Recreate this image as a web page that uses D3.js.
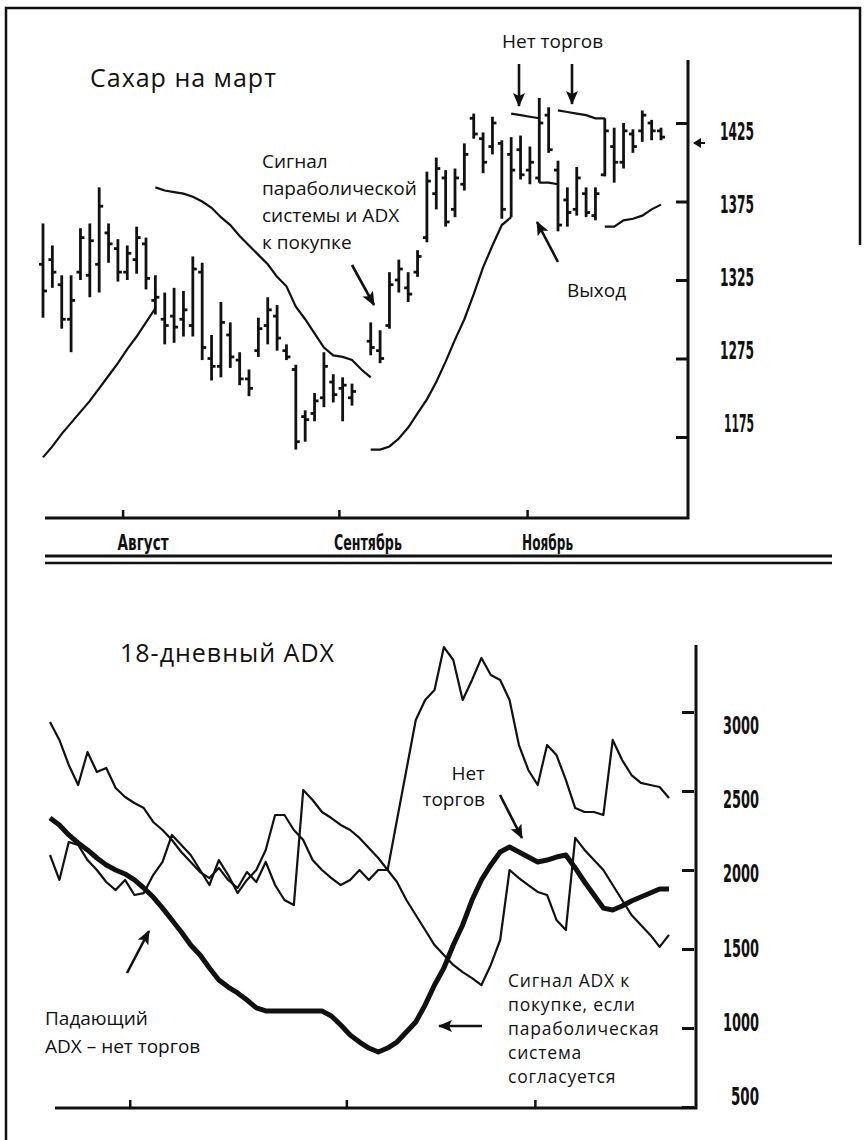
<!DOCTYPE html>
<html>
<head>
<meta charset="utf-8">
<script src="https://cdn.jsdelivr.net/npm/d3@7"></script>
<style>
html, body { margin: 0; padding: 0; background: #fff; }
svg { display: block; }
.ann { font-family: "Open Sans", "Noto Sans", sans-serif; font-size: 19px; fill: #111; }
.ann-tight { font-family: "Open Sans", "Noto Sans", sans-serif; font-size: 17.5px; letter-spacing: 0.8px; fill: #111; }
.title { font-family: "Open Sans", "Noto Sans", sans-serif; font-size: 25px; letter-spacing: 1px; fill: #111; }
.num { font-family: "DejaVu Sans Condensed", "Liberation Sans Narrow", sans-serif; font-weight: bold; font-size: 25px; fill: #111; }
.month { font-family: "DejaVu Sans Condensed", "Liberation Sans Narrow", sans-serif; font-weight: bold; font-size: 21px; fill: #111; }
</style>
</head>
<body>
<svg id="chart" width="864" height="1140"></svg>
<script>
// ---- upper panel: March sugar, daily bars ----
const barDay   = [0,1,2,3,4,5,6,7,8,9,10,11,12,13,14,15,16,17,18,19,20,21,22,23,24,25,26,27,28,29,30,31,32,33,35,36,37,38,39,40,41,42,43,44,45,46,47,48,49,50,51,52,53,54,55,56,57,58,59,60,61,62,63,64,65,66];
const barHigh  = [1361,1347,1328,1328,1358,1361,1384,1361,1351,1347,1359,1352,1328,1317,1320,1318,1340,1336,1290,1311,1298,1279,1268,1301,1314,1309,1284,1271,1242,1253,1279,1265,1263,1259,1298,1293,1330,1338,1330,1344,1394,1403,1395,1396,1412,1431,1419,1429,1414,1416,1417,1410,1441,1435,1401,1384,1397,1384,1384,1428,1422,1425,1421,1433,1427,1422];
const barLow   = [1301,1320,1294,1279,1325,1314,1317,1336,1324,1325,1329,1319,1303,1284,1285,1289,1289,1274,1261,1263,1269,1258,1251,1276,1284,1280,1274,1217,1222,1235,1244,1247,1235,1245,1277,1272,1294,1317,1311,1327,1349,1370,1359,1365,1382,1415,1393,1405,1364,1365,1389,1386,1387,1406,1356,1359,1366,1365,1363,1391,1387,1396,1406,1413,1414,1414];
const barOpen  = [1335,1338,1322,1300,1330,1328,1335,1355,1345,1330,1338,1348,1312,1300,1302,1300,1296,1330,1275,1270,1290,1274,1262,1280,1296,1302,1280,1268,1238,1240,1250,1260,1256,1250,1286,1280,1296,1325,1320,1330,1352,1380,1390,1370,1386,1428,1415,1410,1412,1405,1408,1395,1390,1430,1395,1376,1370,1380,1366,1392,1410,1400,1418,1420,1425,1420];
const barClose = [1318,1330,1300,1312,1352,1350,1372,1348,1330,1342,1352,1326,1314,1296,1295,1306,1332,1282,1270,1298,1276,1262,1256,1294,1306,1288,1276,1222,1236,1248,1270,1252,1258,1254,1282,1275,1322,1332,1316,1340,1388,1396,1362,1390,1405,1418,1400,1425,1370,1395,1392,1400,1425,1408,1360,1368,1390,1368,1380,1420,1400,1420,1410,1430,1420,1416];

// parabolic stop line, one run per side: first day, then daily values
const sarStart = [0, 12, 35, 50, 53, 55, 60];
const sarRun1 = [1212,1219,1227,1234,1241,1248,1256,1264,1272,1281,1289,1298,1307];
const sarRun2 = [1384,1382,1381,1380,1378,1375,1371,1365,1360,1353,1347,1341,1335,1327,1321,1308,1300,1291,1282,1277,1276,1274,1268,1263];
const sarRun3 = [1217,1217,1219,1224,1231,1240,1249,1260,1273,1287,1300,1316,1333,1347,1360,1365];
const sarRun4 = [1431,1430,1429,1428];
const sarRun5 = [1387,1387,1386];
const sarRun6 = [1433,1432,1431,1430,1428,1428];
const sarRun7 = [1359,1359,1363,1364,1366,1370,1373];
const sarRuns = [sarRun1, sarRun2, sarRun3, sarRun4, sarRun5, sarRun6, sarRun7];

const priceTicks = [1425, 1375, 1325, 1275, 1225];
const priceTickLabels = ["1425", "1375", "1325", "1275", "1175"];

const monthNames = ["Август", "Сентябрь", "Ноябрь"];
const monthDays = [8.5, 31.6, 51.7];

// ---- lower panel: 18-day ADX and the two DI lines ----
const adx     = [2329,2285,2222,2171,2127,2076,2032,2000,1975,1937,1886,1829,1759,1684,1608,1525,1462,1380,1304,1259,1222,1177,1127,1108,1108,1108,1108,1108,1108,1108,1076,1019,956,911,873,848,873,911,975,1038,1146,1272,1380,1525,1652,1810,1937,2032,2114,2146,2114,2082,2051,2063,2082,2095,2013,1924,1842,1759,1747,1772,1804,1829,1854,1880,1880];
const minusDI = [2937,2823,2665,2538,2747,2620,2646,2519,2462,2424,2392,2304,2253,2190,2114,2051,1987,1949,2013,1937,1886,1987,1924,2051,1905,1810,1778,2506,2443,2367,2329,2285,2253,2203,2139,2076,2000,1924,1810,1715,1620,1525,1462,1399,1354,1316,1272,1399,1557,2000,1949,1905,1861,1842,1684,1620,2203,2127,2063,2000,1905,1810,1715,1652,1589,1513,1589];
const plusDI  = [2095,1937,2177,2158,2063,2000,1924,1873,1937,1842,1854,1968,2051,2222,2158,2095,2000,1905,2063,1968,1854,1937,2000,2127,2348,2348,2253,2190,2063,2000,1949,1905,1937,2000,1937,2000,2000,2318,2633,2949,3076,3139,3411,3329,3076,3203,3342,3234,3203,3076,2791,2633,2538,2791,2728,2570,2392,2367,2367,2348,2823,2696,2601,2551,2538,2525,2456];

const adxTicks = [3000, 2500, 2000, 1500, 1000, 500];

const ink = "#111";
const svg = d3.select("#chart");

// arrowhead
const defs = svg.append("defs");
defs.append("marker")
    .attr("id", "head")
    .attr("markerUnits", "userSpaceOnUse")
    .attr("markerWidth", 14).attr("markerHeight", 12)
    .attr("refX", 13).attr("refY", 6)
    .attr("orient", "auto")
    .append("path").attr("d", "M0,0 L14,6 L0,12 L3,6 Z").attr("fill", ink);
defs.append("marker")
    .attr("id", "headSmall")
    .attr("markerUnits", "userSpaceOnUse")
    .attr("markerWidth", 8).attr("markerHeight", 10)
    .attr("refX", 7).attr("refY", 5)
    .attr("orient", "auto")
    .append("path").attr("d", "M0,0 L8,5 L0,10 Z").attr("fill", ink);

function arrow(x1, y1, x2, y2, small) {
    svg.append("line")
        .attr("x1", x1).attr("y1", y1).attr("x2", x2).attr("y2", y2)
        .attr("stroke", ink).attr("stroke-width", small ? 2 : 2.6)
        .attr("marker-end", small ? "url(#headSmall)" : "url(#head)");
}

function textBlock(lines, x, y, lineHeight, cls, anchor) {
    const t = svg.append("text").attr("class", cls).attr("text-anchor", anchor || "start");
    lines.forEach((s, i) => {
        t.append("tspan").attr("x", x).attr("y", y + i * lineHeight).text(s);
    });
    return t;
}

// outer frame
svg.append("path")
    .attr("d", "M6,1140 V8 H860 V245")
    .attr("fill", "none").attr("stroke", ink).attr("stroke-width", 2.5);

// ================= upper panel =================
const x1 = d3.scaleLinear().domain([0, 66]).range([43, 661]);
const y1 = d3.scaleLinear().domain([1225, 1425]).range([437, 123]);
const y1Label = d3.scaleLinear().domain([1225, 1425]).range([423, 131]);

const up = svg.append("g");

// axes
up.append("path").attr("d", "M45,518 H688 V60")
    .attr("fill", "none").attr("stroke", ink).attr("stroke-width", 3);

up.append("g")
    .attr("transform", "translate(687,0)")
    .call(d3.axisLeft(y1).tickValues(priceTicks).tickSize(11).tickFormat(""))
    .call(g => g.select(".domain").remove())
    .call(g => g.selectAll("line").attr("stroke", ink).attr("stroke-width", 3));

up.append("g")
    .attr("transform", "translate(0,518)")
    .call(d3.axisTop(x1).tickValues(monthDays).tickSize(8).tickFormat(""))
    .call(g => g.select(".domain").remove())
    .call(g => g.selectAll("line").attr("stroke", ink).attr("stroke-width", 2.5));

up.selectAll(".plabel")
    .data(priceTicks)
    .join("text")
    .attr("class", "num")
    .attr("x", 754)
    .attr("y", d => y1Label(d))
    .attr("dy", "0.36em")
    .attr("text-anchor", "end")
    .attr("textLength", (d, i) => priceTickLabels[i] === "1175" ? 30 : 34)
    .attr("lengthAdjust", "spacingAndGlyphs")
    .text((d, i) => priceTickLabels[i]);

up.selectAll(".mlabel")
    .data(monthNames)
    .join("text")
    .attr("class", "month")
    .attr("x", (d, i) => x1(monthDays[i]) - 5)
    .attr("y", 550)
    .attr("textLength", d => d.length * 8.5)
    .attr("lengthAdjust", "spacingAndGlyphs")
    .text(d => d);

// double rule between panels
svg.append("line").attr("x1", 45).attr("x2", 832).attr("y1", 556).attr("y2", 556)
    .attr("stroke", ink).attr("stroke-width", 3);
svg.append("line").attr("x1", 45).attr("x2", 832).attr("y1", 563).attr("y2", 563)
    .attr("stroke", ink).attr("stroke-width", 2.5);

// price bars
const bars = up.append("g").selectAll("g")
    .data(barDay.map((d, i) => ({ day: d, h: barHigh[i], l: barLow[i], o: barOpen[i], c: barClose[i] })))
    .join("g")
    .attr("stroke", ink)
    .attr("stroke-width", 2.8);
bars.append("line")
    .attr("x1", d => x1(d.day)).attr("x2", d => x1(d.day))
    .attr("y1", d => y1(d.h)).attr("y2", d => y1(d.l));
bars.append("line")
    .attr("x1", d => x1(d.day) - 4).attr("x2", d => x1(d.day))
    .attr("y1", d => y1(d.o)).attr("y2", d => y1(d.o));
bars.append("line")
    .attr("x1", d => x1(d.day)).attr("x2", d => x1(d.day) + 4)
    .attr("y1", d => y1(d.c)).attr("y2", d => y1(d.c));

// parabolic stops
const sarLine = d3.line().x(d => x1(d.day)).y(d => y1(d.v));
up.append("g").selectAll("path")
    .data(sarRuns.map((run, k) => run.map((v, j) => ({ day: sarStart[k] + j, v }))))
    .join("path")
    .attr("d", sarLine)
    .attr("fill", "none").attr("stroke", ink).attr("stroke-width", 2.2);

// titles and notes
svg.append("text").attr("class", "title").attr("x", 90).attr("y", 87).text("Сахар на март");
textBlock(["Сигнал", "параболической", "системы и ADX", "к покупке"], 262, 168, 27, "ann");
arrow(352, 265, 374, 305);
svg.append("text").attr("class", "ann").attr("x", 502).attr("y", 48).text("Нет торгов");
arrow(519, 64, 519, 106);
arrow(572, 64, 572, 104);
svg.append("text").attr("class", "ann").attr("x", 567).attr("y", 297).text("Выход");
arrow(558, 262, 537, 222);
arrow(705, 143, 694, 143, true);

// ================= lower panel =================
const x2 = d3.scaleLinear().domain([0, 66]).range([50, 669]);
const y2 = d3.scaleLinear().domain([500, 3000]).range([1107, 712]);
const y2Label = d3.scaleLinear().domain([500, 3000]).range([1096, 725]);

const low = svg.append("g");

low.append("path").attr("d", "M55,1108 H696 V645")
    .attr("fill", "none").attr("stroke", ink).attr("stroke-width", 3);

low.append("g")
    .attr("transform", "translate(694,0)")
    .call(d3.axisLeft(y2).tickValues(adxTicks).tickSize(12).tickFormat(""))
    .call(g => g.select(".domain").remove())
    .call(g => g.selectAll("line").attr("stroke", ink).attr("stroke-width", 3));

low.append("g")
    .attr("transform", "translate(0,1108)")
    .call(d3.axisTop(x2).tickValues(monthDays).tickSize(8).tickFormat(""))
    .call(g => g.select(".domain").remove())
    .call(g => g.selectAll("line").attr("stroke", ink).attr("stroke-width", 2.5));

low.selectAll(".alabel")
    .data(adxTicks)
    .join("text")
    .attr("class", "num")
    .attr("x", 759)
    .attr("y", d => y2Label(d))
    .attr("dy", "0.36em")
    .attr("text-anchor", "end")
    .attr("textLength", d => d >= 1000 ? 36 : 28)
    .attr("lengthAdjust", "spacingAndGlyphs")
    .text(d => d);

const line2 = d3.line().x((d, i) => x2(i)).y(d => y2(d));
low.append("path").attr("d", line2(minusDI))
    .attr("fill", "none").attr("stroke", ink).attr("stroke-width", 2.2).attr("stroke-linejoin", "round");
low.append("path").attr("d", line2(plusDI))
    .attr("fill", "none").attr("stroke", ink).attr("stroke-width", 2.2).attr("stroke-linejoin", "round");
low.append("path").attr("d", line2(adx))
    .attr("fill", "none").attr("stroke", ink).attr("stroke-width", 5).attr("stroke-linejoin", "round");

svg.append("text").attr("class", "title").attr("x", 120).attr("y", 662).text("18-дневный ADX");
textBlock(["Нет", "торгов"], 485, 780, 26, "ann", "end");
arrow(500, 795, 522, 838);
textBlock(["Падающий", "ADX – нет торгов"], 45, 1025, 28, "ann");
arrow(127, 973, 149, 931);
textBlock(["Сигнал ADX к", "покупке, если", "параболическая", "система", "согласуется"], 508, 987, 24, "ann-tight");
arrow(482, 1026, 439, 1026);
</script>
</body>
</html>
